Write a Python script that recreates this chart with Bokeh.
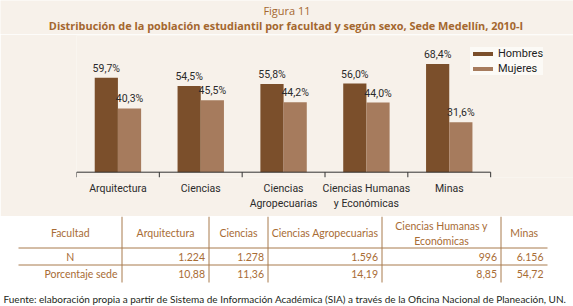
from bokeh.plotting import figure
from bokeh.models import FactorRange, Range1d, ColumnDataSource, Legend, LegendItem
from bokeh.transform import dodge
from bokeh.layouts import column
from bokeh.core.properties import value
from bokeh.embed import file_html
from bokeh.resources import INLINE

# ---------------- data ----------------
title_text = "Figura 11"
subtitle_text = "Distribución de la población estudiantil por facultad y según sexo, Sede Medellín, 2010-I"
categories = ["Arquitectura", "Ciencias", "Ciencias\nAgropecuarias",
              "Ciencias Humanas\ny Económicas", "Minas"]
series_names = ["Hombres", "Mujeres"]
hombres = [59.7, 54.5, 55.8, 56.0, 68.4]
mujeres = [40.3, 45.5, 44.2, 44.0, 31.6]

table_first_col = ["Facultad", "N", "Porcentaje sede"]
table_headers = ["Arquitectura", "Ciencias", "Ciencias Agropecuarias",
                 "Ciencias Humanas y\nEconómicas", "Minas"]
n_values = [1224, 1278, 1596, 996, 6156]
pct_sede = [10.88, 11.36, 14.19, 8.85, 54.72]
footnote = ("Fuente: elaboración propia a partir de Sistema de Información Académica (SIA) "
            "a través de la Oficina Nacional de Planeación, UN.")

# ---------------- style ----------------
BG = "#f7f1ea"
C_H = "#7b4f2b"
C_M = "#a67b5d"
C_TITLE = "#a4672f"
C_TABLE = "#a86c35"
C_LINE = "#a87a4c"
LBL_FONT = "Roboto"
SANS = value("Lato")
TITLE_FONT = value("Open Sans")

def pct_label(v):
    return f"{v:.1f}".replace(".", ",") + "%"

def thousands(v):
    return f"{v:,}".replace(",", ".")

def dec2(v):
    return f"{v:.2f}".replace(".", ",")

W = 573

# ---------------- titles ----------------
t = figure(width=W, height=34, x_range=Range1d(0, W), y_range=Range1d(34, 0),
           x_axis_location=None, y_axis_location=None, toolbar_location=None,
           output_backend="svg", min_border=0, outline_line_color=None,
           background_fill_color=BG, border_fill_color=BG)
t.frame_align = False
t.grid.visible = False
t.text(x=[W / 2], y=[10], text=[title_text], text_align="center", text_baseline="alphabetic",
       text_font=TITLE_FONT, text_font_size="11px", text_color=C_TITLE)
t.text(x=[W / 2 - 1], y=[24.5], text=[subtitle_text], text_align="center", text_baseline="alphabetic",
       text_font=TITLE_FONT, text_font_size="10.9px", text_font_style="bold", text_color=C_TITLE)

# ---------------- bar chart ----------------
y0 = -3.35
# one empty slot on the right leaves room for the legend inside the frame
p = figure(width=W, height=182, x_range=FactorRange(factors=categories + [" "]),
           y_range=Range1d(y0, 86.4), y_axis_location=None, toolbar_location=None,
           output_backend="svg", min_border_left=76, min_border_right=0,
           min_border_top=1, min_border_bottom=39, outline_line_color=None,
           background_fill_color=BG, border_fill_color=BG)
p.frame_align = False
p.grid.visible = False

src = ColumnDataSource(dict(cat=categories, h=hombres, m=mujeres,
                            hl=[pct_label(v) for v in hombres],
                            ml=[pct_label(v) for v in mujeres]))
off = 0.14
bw = 0.28
rh = p.vbar(x=dodge("cat", -off, range=p.x_range), top="h", width=bw, source=src,
            fill_color=C_H, line_color=None)
rm = p.vbar(x=dodge("cat", off, range=p.x_range), top="m", width=bw, source=src,
            fill_color=C_M, line_color=None)
p.text(x=dodge("cat", -off, range=p.x_range), y="h", text="hl", source=src,
       text_align="center", text_baseline="bottom", y_offset=-3,
       text_font=value(LBL_FONT), text_font_size="10.5px", text_color="#2b2b2b")
p.text(x=dodge("cat", off, range=p.x_range), y="m", text="ml", source=src,
       text_align="center", text_baseline="bottom", y_offset=-3,
       text_font=value(LBL_FONT), text_font_size="10.5px", text_color="#2b2b2b")

# axis line and boundary ticks
ends = ColumnDataSource(dict(a=categories[:1], b=categories[-1:]))
p.segment(x0=dodge("a", -0.5, range=p.x_range), y0=0, x1=dodge("b", 0.5, range=p.x_range),
          y1=0, source=ends, line_color="#333333", line_width=1)
tick_src = ColumnDataSource(dict(cat=categories))
p.segment(x0=dodge("cat", -0.5, range=p.x_range), y0=0, x1=dodge("cat", -0.5, range=p.x_range),
          y1=y0, source=tick_src, line_color="#333333", line_width=1)
last_src = ColumnDataSource(dict(cat=categories[-1:]))
p.segment(x0=dodge("cat", 0.5, range=p.x_range), y0=0, x1=dodge("cat", 0.5, range=p.x_range),
          y1=y0, source=last_src, line_color="#333333", line_width=1)

ax = p.xaxis[0]
ax.axis_line_color = None
ax.major_tick_line_color = None
ax.minor_tick_line_color = None
ax.major_tick_in = 0
ax.major_tick_out = 0
ax.major_label_standoff = 4
ax.major_label_text_font = LBL_FONT
ax.major_label_text_font_size = "10.5px"
ax.major_label_text_color = "#2b2b2b"

legend = Legend(items=[LegendItem(label=series_names[0], renderers=[rh]),
                       LegendItem(label=series_names[1], renderers=[rm])],
                location=(394, 102), background_fill_color="#fcfaf6", background_fill_alpha=1,
                border_line_color=None, glyph_width=25, glyph_height=5, label_height=12,
                spacing=2, padding=6, label_standoff=3, margin=0,
                label_text_font=LBL_FONT, label_text_font_size="11px",
                label_text_color="#222222")
p.add_layout(legend)

# ---------------- table + footnote ----------------
b = figure(width=W, height=90, x_range=Range1d(0, W), y_range=Range1d(90, 0),
           x_axis_location=None, y_axis_location=None, toolbar_location=None,
           output_backend="svg", min_border=0, outline_line_color=None,
           background_fill_color="white", border_fill_color="white")
b.frame_align = False
b.grid.visible = False

edges = [18, 121.5, 208.5, 267.5, 381.5, 500.5, 547]
row_lines = [31.5, 48.5]
table_bottom = 66
b.segment(x0=[edges[0]] * 2, x1=[edges[-1]] * 2, y0=row_lines, y1=row_lines,
          line_color=C_LINE, line_width=1)
b.segment(x0=edges[1:-1], x1=edges[1:-1], y0=[0] * 5, y1=[table_bottom] * 5,
          line_color=C_LINE, line_width=1)

centers = [(edges[i] + edges[i + 1]) / 2 for i in range(len(edges) - 1)]
row_y = [16.5, 40.5, 57.5]
b.text(x=[centers[0]] * 2, y=row_y[:2], text=table_first_col[:2], text_align="center",
       text_baseline="middle", text_font=SANS, text_font_size="10.5px", text_color=C_TABLE)
b.text(x=[edges[1] - 4.5], y=row_y[2:], text=table_first_col[2:], text_align="right",
       text_baseline="middle", text_font=SANS, text_font_size="10.5px", text_color=C_TABLE)
b.text(x=centers[1:], y=[row_y[0]] * 5, text=table_headers, text_align="center",
       text_baseline="middle", text_font=SANS, text_font_size="10.5px", text_color=C_TABLE,
       text_line_height=1.25)
right_x = [e - 4 for e in edges[2:]]
b.text(x=right_x, y=[row_y[1]] * 5, text=[thousands(v) for v in n_values], text_align="right",
       text_baseline="middle", text_font=SANS, text_font_size="10.5px", text_color=C_TABLE)
b.text(x=right_x, y=[row_y[2]] * 5, text=[dec2(v) for v in pct_sede], text_align="right",
       text_baseline="middle", text_font=SANS, text_font_size="10.5px", text_color=C_TABLE)

b.text(x=[3], y=[82], text=[footnote], text_align="left", text_baseline="middle",
       text_font=SANS, text_font_size="10px", text_color="#231f20")

layout = column(t, p, b, spacing=0)
open("out.html", "w").write(file_html(layout, INLINE))
